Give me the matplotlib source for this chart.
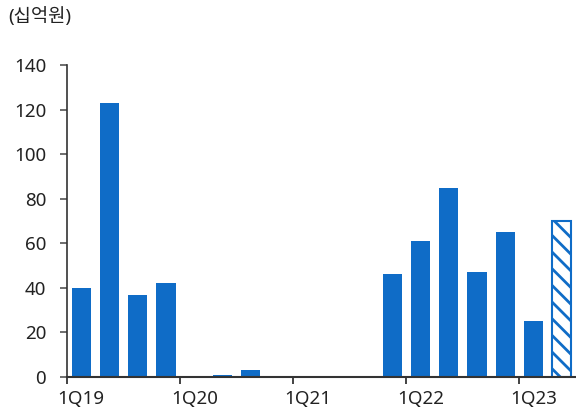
import matplotlib.pyplot as plt
import numpy as np

plt.rcParams['font.family'] = ['Noto Sans', 'Noto Sans CJK KR', 'DejaVu Sans']

quarters = ['1Q19', '2Q19', '3Q19', '4Q19', '1Q20', '2Q20', '3Q20', '4Q20',
            '1Q21', '2Q21', '3Q21', '4Q21', '1Q22', '2Q22', '3Q22', '4Q22',
            '1Q23', '2Q23']
values = [40, 123, 37, 42, 0.3, 1, 3, 0, 0, 0, 0, 46, 61, 85, 47, 65, 25, 70]
forecast = [False] * 17 + [True]
tick_labels = ['1Q19', '1Q20', '1Q21', '1Q22', '1Q23']

blue = '#0f6cc7'
plt.rcParams['hatch.color'] = blue
plt.rcParams['hatch.linewidth'] = 2.0

fig = plt.figure(figsize=(5.76, 4.11), dpi=100)
ax = fig.add_axes([67/576, 1 - 377/411, (576 - 67)/576, (377 - 65)/411])

x = np.arange(len(quarters))
for xi, v, f in zip(x, values, forecast):
    if f:
        ax.bar(xi, v, width=0.68, color='white', edgecolor=blue, hatch='\\\\',
               linewidth=1.5)
    else:
        ax.bar(xi, v, width=0.68, color=blue, edgecolor='none')

ax.set_xlim(-0.5, len(quarters) - 0.5)
ax.set_ylim(0, 140)
ax.set_yticks(range(0, 141, 20))
# labels sit on the quarter centres, tick marks on the slot boundaries
label_pos = [quarters.index(t) for t in tick_labels]
ax.set_xticks(label_pos)
ax.set_xticklabels(tick_labels)
ax.set_xticks([p - 0.5 for p in label_pos], minor=True)
ax.tick_params(axis='x', which='major', length=0, pad=9)
ax.tick_params(axis='x', which='minor', length=5, width=1.2, colors='#222222')

for s in ['top', 'right']:
    ax.spines[s].set_visible(False)
ax.spines['left'].set_color('#333333')
ax.spines['bottom'].set_color('#333333')
ax.spines['left'].set_linewidth(1.2)
ax.spines['bottom'].set_linewidth(1.5)
ax.tick_params(axis='both', which='major', labelsize=13.5, labelcolor='#222222')
ax.tick_params(axis='y', colors='#555555', labelcolor='#222222', length=5,
               width=1.2, pad=10)

fig.text(8/576, 1 - 17/411, '(십억원)', fontsize=13.5, va='center', ha='left',
         color='#222222')

fig.savefig('out.png', dpi=100)
